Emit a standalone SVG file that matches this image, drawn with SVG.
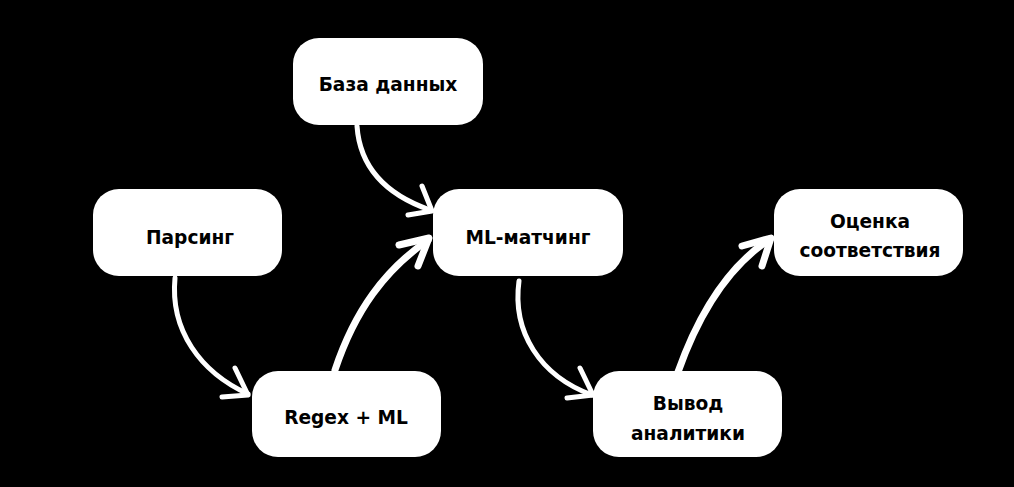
<svg xmlns="http://www.w3.org/2000/svg" width="1014" height="487" viewBox="0 0 1014 487">
<style>
.box{fill:#fff}
.t{font-family:"DejaVu Sans",sans-serif;font-weight:bold;font-size:18.6px;fill:#000;text-anchor:middle;dominant-baseline:central}
.c{fill:none;stroke:#fff;stroke-linecap:round;stroke-linejoin:round}
.thin{stroke-width:5}
.thick{stroke-width:7}
</style>
<rect width="1014" height="487" fill="#000"/>
<g id="connectors">
<path class="c thin" d="M357,126 C360,170 390,196 430,210"/>
<path class="c thin" d="M422,186 L432,211 L408,215"/>
<path class="c thin" d="M175,278 C170,330 200,372 248,394"/>
<path class="c thin" d="M235,368 L248,395 L222,397"/>
<path class="c thick" d="M335,370 C355,310 385,270 428,240"/>
<path class="c thick" d="M399,245 L429,238 L418,266"/>
<path class="c thin" d="M519,281 C512,332 540,376 592,395"/>
<path class="c thin" d="M580,368 L593,395 L567,398"/>
<path class="c thick" d="M678,372 C700,310 730,265 770,239"/>
<path class="c thick" d="M742,246 L771,238 L762,266"/>
</g>
<g id="n-db"><rect class="box" x="293" y="38" width="190" height="87" rx="26"/><text class="t" x="388" y="84">База данных</text></g>
<g id="n-parse"><rect class="box" x="93" y="189" width="189" height="87" rx="26"/><text class="t" x="190" y="237">Парсинг</text></g>
<g id="n-ml"><rect class="box" x="433" y="189" width="190" height="87" rx="26"/><text class="t" x="528" y="237">ML-матчинг</text></g>
<g id="n-score"><rect class="box" x="774" y="189" width="189" height="87" rx="26"/><text class="t" x="870" y="221">Оценка</text><text class="t" x="870" y="250">соответствия</text></g>
<g id="n-regex"><rect class="box" x="252" y="371" width="189" height="86" rx="26"/><text class="t" x="346" y="417">Regex + ML</text></g>
<g id="n-out"><rect class="box" x="593" y="371" width="189" height="86" rx="26"/><text class="t" x="688" y="403">Вывод</text><text class="t" x="688" y="433">аналитики</text></g>
</svg>
